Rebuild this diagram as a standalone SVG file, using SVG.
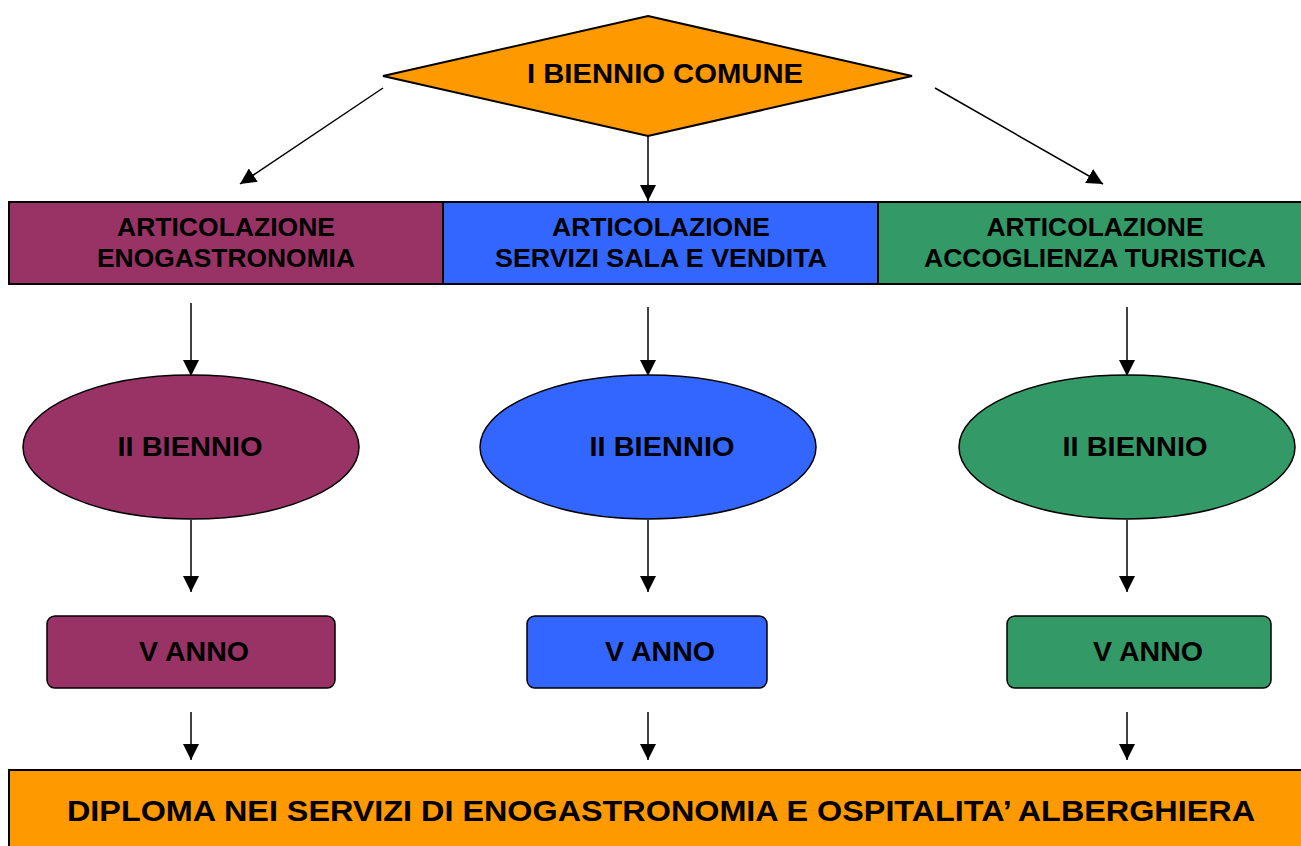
<svg xmlns="http://www.w3.org/2000/svg" width="1301" height="846" viewBox="0 0 1301 846">
<defs>
<marker id="ah" viewBox="0 0 16 16" refX="16" refY="8" markerWidth="16" markerHeight="16" markerUnits="userSpaceOnUse" orient="auto">
<path d="M0,0 L16,8 L0,16 Z" fill="#000"/>
</marker>
<style>
.t{font-family:"Liberation Sans",Arial,sans-serif;font-weight:bold;fill:#000;text-anchor:middle;}
.s{stroke:#000;stroke-width:2;}
.c{stroke:#000;stroke-width:1.5;fill:none;marker-end:url(#ah);}
.p{fill:#993366;}.b{fill:#3366FF;}.g{fill:#339966;}.o{fill:#FF9900;}
</style>
</defs>
<rect width="1301" height="846" fill="#fff"/>
<g id="connectors">
<line class="c" x1="383" y1="88" x2="240" y2="184"/>
<line class="c" x1="648" y1="136" x2="648" y2="201"/>
<line class="c" x1="935" y1="88" x2="1103" y2="184"/>
<line class="c" x1="191" y1="303" x2="191" y2="376"/>
<line class="c" x1="648" y1="307" x2="648" y2="376"/>
<line class="c" x1="1127" y1="307" x2="1127" y2="376"/>
<line class="c" x1="191" y1="520" x2="191" y2="592"/>
<line class="c" x1="648" y1="520" x2="648" y2="592"/>
<line class="c" x1="1127" y1="520" x2="1127" y2="592"/>
<line class="c" x1="191" y1="712" x2="191" y2="760"/>
<line class="c" x1="648" y1="712" x2="648" y2="760"/>
<line class="c" x1="1127" y1="712" x2="1127" y2="760"/>
</g>
<g id="biennio-comune">
<polygon class="o s" points="648,16 912,76 648,136 383,76"/>
<text class="t" x="665" y="83" font-size="28" textLength="276" lengthAdjust="spacingAndGlyphs">I BIENNIO COMUNE</text>
</g>
<g id="art-eno">
<rect class="p s" x="9" y="202" width="434" height="82"/>
<text class="t" x="226" y="236" font-size="26" textLength="218" lengthAdjust="spacingAndGlyphs">ARTICOLAZIONE</text>
<text class="t" x="226" y="267" font-size="26" textLength="258" lengthAdjust="spacingAndGlyphs">ENOGASTRONOMIA</text>
</g>
<g id="art-sala">
<rect class="b s" x="443" y="202" width="435" height="82"/>
<text class="t" x="661" y="236" font-size="26" textLength="218" lengthAdjust="spacingAndGlyphs">ARTICOLAZIONE</text>
<text class="t" x="661" y="267" font-size="26" textLength="332" lengthAdjust="spacingAndGlyphs">SERVIZI SALA E VENDITA</text>
</g>
<g id="art-acc">
<rect class="g s" x="878" y="202" width="430" height="82"/>
<text class="t" x="1095" y="236" font-size="26" textLength="217" lengthAdjust="spacingAndGlyphs">ARTICOLAZIONE</text>
<text class="t" x="1095" y="267" font-size="26" textLength="342" lengthAdjust="spacingAndGlyphs">ACCOGLIENZA TURISTICA</text>
</g>
<g id="biennio-eno">
<ellipse class="p" cx="191" cy="447" rx="168" ry="72" stroke="#000" stroke-width="1.5"/>
<text class="t" x="190" y="456" font-size="28" textLength="145" lengthAdjust="spacingAndGlyphs">II BIENNIO</text>
</g>
<g id="biennio-sala">
<ellipse class="b" cx="648" cy="447" rx="168" ry="72" stroke="#000" stroke-width="1.5"/>
<text class="t" x="662" y="456" font-size="28" textLength="145" lengthAdjust="spacingAndGlyphs">II BIENNIO</text>
</g>
<g id="biennio-acc">
<ellipse class="g" cx="1127" cy="447" rx="168" ry="72" stroke="#000" stroke-width="1.5"/>
<text class="t" x="1135" y="456" font-size="28" textLength="145" lengthAdjust="spacingAndGlyphs">II BIENNIO</text>
</g>
<g id="anno-eno">
<rect class="p" x="47" y="616" width="288" height="72" rx="8" stroke="#000" stroke-width="1.5"/>
<text class="t" x="194" y="661" font-size="28" textLength="110" lengthAdjust="spacingAndGlyphs">V ANNO</text>
</g>
<g id="anno-sala">
<rect class="b" x="527" y="616" width="240" height="72" rx="8" stroke="#000" stroke-width="1.5"/>
<text class="t" x="660" y="661" font-size="28" textLength="110" lengthAdjust="spacingAndGlyphs">V ANNO</text>
</g>
<g id="anno-acc">
<rect class="g" x="1007" y="616" width="264" height="72" rx="8" stroke="#000" stroke-width="1.5"/>
<text class="t" x="1148" y="661" font-size="28" textLength="110" lengthAdjust="spacingAndGlyphs">V ANNO</text>
</g>
<g id="diploma">
<rect class="o s" x="9" y="770" width="1300" height="90"/>
<text class="t" x="661" y="821" font-size="30" textLength="1188" lengthAdjust="spacingAndGlyphs">DIPLOMA NEI SERVIZI DI ENOGASTRONOMIA E OSPITALITA’ ALBERGHIERA</text>
</g>
</svg>
